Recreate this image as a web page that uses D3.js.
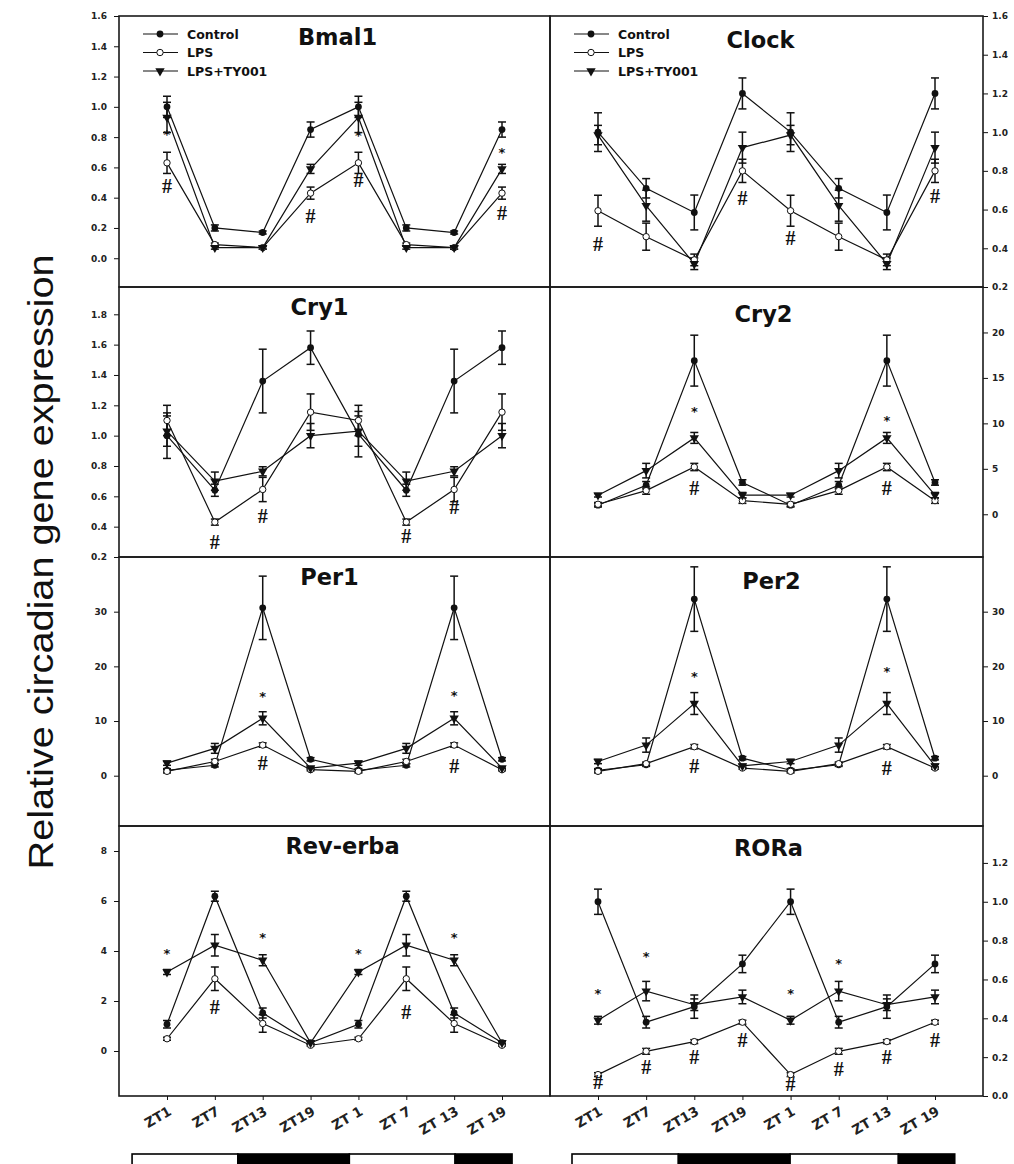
<!DOCTYPE html>
<html>
<head>
<meta charset="utf-8">
<script src="https://cdn.jsdelivr.net/npm/d3@7"></script>
<style>
  body { margin: 0; background: #fff; }
  svg { display: block; }
</style>
</head>
<body>
<div class="canvas"></div>
<script>
// time points, double plotted
const zt = ['ZT1', 'ZT7', 'ZT13', 'ZT19', 'ZT 1', 'ZT 7', 'ZT 13', 'ZT 19'];
const groups = ['Control', 'LPS', 'LPS+TY001'];

// means / SEM, rows = Control, LPS, LPS+TY001
const bmal1Mean = [
  [1.0, 0.2, 0.17, 0.85, 1.0, 0.2, 0.17, 0.85],
  [0.63, 0.09, 0.07, 0.43, 0.63, 0.09, 0.07, 0.43],
  [0.93, 0.07, 0.07, 0.59, 0.93, 0.07, 0.07, 0.59]
];
const bmal1Err = [
  [0.07, 0.02, 0.01, 0.05, 0.07, 0.02, 0.01, 0.05],
  [0.07, 0.01, 0.01, 0.04, 0.07, 0.01, 0.01, 0.04],
  [0.1, 0.01, 0.01, 0.03, 0.1, 0.01, 0.01, 0.03]
];
const bmal1Marks = [['*', 0, 0.82], ['#', 0, 0.48], ['#', 3, 0.28], ['*', 4, 0.81], ['#', 4, 0.52], ['*', 7, 0.7], ['#', 7, 0.3]];
const bmal1Ticks = [0, 0.2, 0.4, 0.6, 0.8, 1.0, 1.2, 1.4, 1.6];

const clockMean = [
  [1.0, 0.71, 0.585, 1.2, 1.0, 0.71, 0.585, 1.2],
  [0.594, 0.46, 0.34, 0.8, 0.594, 0.46, 0.34, 0.8],
  [0.985, 0.62, 0.32, 0.92, 0.985, 0.62, 0.32, 0.92]
];
const clockErr = [
  [0.1, 0.05, 0.09, 0.08, 0.1, 0.05, 0.09, 0.08],
  [0.08, 0.07, 0.03, 0.06, 0.08, 0.07, 0.03, 0.06],
  [0.05, 0.08, 0.03, 0.08, 0.05, 0.08, 0.03, 0.08]
];
const clockMarks = [['#', 0, 0.42], ['#', 3, 0.66], ['#', 4, 0.455], ['#', 7, 0.67]];
const clockTicks = [0.2, 0.4, 0.6, 0.8, 1.0, 1.2, 1.4, 1.6];

const cry1Mean = [
  [1.0, 0.64, 1.36, 1.58, 1.01, 0.64, 1.36, 1.58],
  [1.1, 0.43, 0.645, 1.155, 1.1, 0.43, 0.645, 1.155],
  [1.03, 0.7, 0.765, 1.0, 1.03, 0.7, 0.765, 1.0]
];
const cry1Err = [
  [0.15, 0.04, 0.21, 0.11, 0.15, 0.04, 0.21, 0.11],
  [0.1, 0.02, 0.08, 0.12, 0.1, 0.02, 0.08, 0.12],
  [0.1, 0.06, 0.03, 0.08, 0.1, 0.06, 0.03, 0.08]
];
const cry1Marks = [['#', 1, 0.3], ['#', 2, 0.47], ['#', 5, 0.34], ['#', 6, 0.53]];
const cry1Ticks = [0.2, 0.4, 0.6, 0.8, 1.0, 1.2, 1.4, 1.6, 1.8];

const cry2Mean = [
  [1.0, 3.2, 16.9, 3.5, 1.0, 3.2, 16.9, 3.5],
  [1.1, 2.6, 5.2, 1.5, 1.1, 2.6, 5.2, 1.5],
  [2.1, 4.8, 8.4, 2.1, 2.1, 4.8, 8.4, 2.1]
];
const cry2Err = [
  [0.2, 0.4, 2.8, 0.3, 0.2, 0.4, 2.8, 0.3],
  [0.2, 0.4, 0.4, 0.3, 0.2, 0.4, 0.4, 0.3],
  [0.2, 0.8, 0.6, 0.3, 0.2, 0.8, 0.6, 0.3]
];
const cry2Marks = [['*', 2, 11.3], ['#', 2, 2.9], ['*', 6, 10.3], ['#', 6, 2.9]];
const cry2Ticks = [0, 5, 10, 15, 20];

const per1Mean = [
  [1.0, 1.9, 30.7, 3.0, 1.0, 1.9, 30.7, 3.0],
  [0.8, 2.6, 5.6, 1.1, 0.8, 2.6, 5.6, 1.1],
  [2.3, 5.0, 10.5, 1.4, 2.3, 5.0, 10.5, 1.4]
];
const per1Err = [
  [0.3, 0.3, 5.8, 0.3, 0.3, 0.3, 5.8, 0.3],
  [0.3, 0.4, 0.4, 0.2, 0.3, 0.4, 0.4, 0.2],
  [0.4, 0.9, 1.2, 0.2, 0.4, 0.9, 1.2, 0.2]
];
const per1Marks = [['*', 2, 14.4], ['#', 2, 2.3], ['*', 6, 14.7], ['#', 6, 1.7]];
const per1Ticks = [0, 10, 20, 30];

const per2Mean = [
  [1.0, 2.0, 32.3, 3.2, 1.0, 2.0, 32.3, 3.2],
  [0.8, 2.2, 5.3, 1.4, 0.8, 2.2, 5.3, 1.4],
  [2.6, 5.6, 13.2, 1.8, 2.6, 5.6, 13.2, 1.8]
];
const per2Err = [
  [0.3, 0.3, 5.9, 0.3, 0.3, 0.3, 5.9, 0.3],
  [0.3, 0.3, 0.4, 0.2, 0.3, 0.3, 0.4, 0.2],
  [0.4, 1.3, 2.0, 0.3, 0.4, 1.3, 2.0, 0.3]
];
const per2Marks = [['*', 2, 18.1], ['#', 2, 1.8], ['*', 6, 19.0], ['#', 6, 1.4]];
const per2Ticks = [0, 10, 20, 30];

const revMean = [
  [1.07, 6.19, 1.52, 0.33, 1.07, 6.19, 1.52, 0.33],
  [0.49, 2.89, 1.1, 0.23, 0.49, 2.89, 1.1, 0.23],
  [3.16, 4.23, 3.63, 0.33, 3.16, 4.23, 3.63, 0.33]
];
const revErr = [
  [0.15, 0.2, 0.2, 0.05, 0.15, 0.2, 0.2, 0.05],
  [0.06, 0.47, 0.35, 0.03, 0.06, 0.47, 0.35, 0.03],
  [0.1, 0.43, 0.22, 0.05, 0.1, 0.43, 0.22, 0.05]
];
const revMarks = [['*', 0, 3.92], ['#', 1, 1.76], ['*', 2, 4.56], ['*', 4, 3.92], ['#', 5, 1.56], ['*', 6, 4.56]];
const revTicks = [0, 2, 4, 6, 8];

const roraMean = [
  [1.0, 0.38, 0.46, 0.68, 1.0, 0.38, 0.46, 0.68],
  [0.11, 0.23, 0.28, 0.38, 0.11, 0.23, 0.28, 0.38],
  [0.39, 0.54, 0.47, 0.51, 0.39, 0.54, 0.47, 0.51]
];
const roraErr = [
  [0.065, 0.03, 0.06, 0.045, 0.065, 0.03, 0.06, 0.045],
  [0.01, 0.015, 0.01, 0.01, 0.01, 0.015, 0.01, 0.01],
  [0.02, 0.05, 0.03, 0.035, 0.02, 0.05, 0.03, 0.035]
];
const roraMarks = [
  ['*', 0, 0.53], ['#', 0, 0.07], ['*', 1, 0.72], ['#', 1, 0.15], ['#', 2, 0.2], ['#', 3, 0.29],
  ['*', 4, 0.53], ['#', 4, 0.06], ['*', 5, 0.68], ['#', 5, 0.14], ['#', 6, 0.2], ['#', 7, 0.29]
];
const roraTicks = [0, 0.2, 0.4, 0.6, 0.8, 1.0, 1.2];

// layout
const width = 1014;
const height = 1164;
const cols = [
  { x0: 119, x1: 550, bar: [-0.73, 1.48, 3.81, 6.02, 7.21] },
  { x0: 550, x1: 983, bar: [-0.54, 1.67, 3.99, 6.24, 7.41] }
];
const rows = [[16, 287], [287, 557], [557, 826], [826, 1096]];
const ink = '#111';
const boldFont = 'DejaVu Sans, sans-serif';

const panels = [
  { gene: 'Bmal1', mean: bmal1Mean, err: bmal1Err, marks: bmal1Marks, ticks: bmal1Ticks, domain: [-0.19, 1.6], fmt: '.1f', col: 0, row: 0, tdx: 3, tdy: 29, legend: true },
  { gene: 'Clock', mean: clockMean, err: clockErr, marks: clockMarks, ticks: clockTicks, domain: [0.2, 1.6], fmt: '.1f', col: 1, row: 0, tdx: -6, tdy: 32, legend: true },
  { gene: 'Cry1', mean: cry1Mean, err: cry1Err, marks: cry1Marks, ticks: cry1Ticks, domain: [0.2, 1.98], fmt: '.1f', col: 0, row: 1, tdx: -15, tdy: 28 },
  { gene: 'Cry2', mean: cry2Mean, err: cry2Err, marks: cry2Marks, ticks: cry2Ticks, domain: [-4.7, 25], fmt: 'd', col: 1, row: 1, tdx: -3, tdy: 35 },
  { gene: 'Per1', mean: per1Mean, err: per1Err, marks: per1Marks, ticks: per1Ticks, domain: [-9.2, 40], fmt: 'd', col: 0, row: 2, tdx: -5, tdy: 28 },
  { gene: 'Per2', mean: per2Mean, err: per2Err, marks: per2Marks, ticks: per2Ticks, domain: [-9.2, 40], fmt: 'd', col: 1, row: 2, tdx: 5, tdy: 32 },
  { gene: 'Rev-erba', mean: revMean, err: revErr, marks: revMarks, ticks: revTicks, domain: [-1.8, 9], fmt: 'd', col: 0, row: 3, tdx: 8, tdy: 28 },
  { gene: 'RORa', mean: roraMean, err: roraErr, marks: roraMarks, ticks: roraTicks, domain: [0, 1.39], fmt: '.1f', col: 1, row: 3, tdx: 2, tdy: 30 }
];

const svg = d3
  .select('.canvas')
  .append('svg')
  .attr('width', width)
  .attr('height', height)
  .style('background', '#fff');

const drawMarker = (sel, s, cx, cy) => {
  if (s === 0) {
    sel.append('circle').attr('cx', cx).attr('cy', cy).attr('r', 3.4).attr('fill', ink);
  } else if (s === 1) {
    sel.append('circle').attr('cx', cx).attr('cy', cy).attr('r', 3.2)
      .attr('fill', '#fff').attr('stroke', ink).attr('stroke-width', 1);
  } else {
    sel.append('path')
      .attr('d', d3.symbol(d3.symbolTriangle, 38)())
      .attr('transform', `translate(${cx},${cy}) rotate(180)`)
      .attr('fill', ink);
  }
};

panels.forEach(p => {
  const c = cols[p.col];
  const [y0, y1] = rows[p.row];
  const x = d3.scalePoint().domain(d3.range(zt.length)).range([c.x0 + 48, c.x1 - 48]);
  const y = d3.scaleLinear().domain(p.domain).range([y1, y0]);
  const g = svg.append('g').attr('class', 'panel');

  // y axis (left column on the left, right column on the right)
  const axis = (p.col === 0 ? d3.axisLeft(y) : d3.axisRight(y))
    .tickValues(p.ticks)
    .tickFormat(d3.format(p.fmt))
    .tickSize(5)
    .tickPadding(p.col === 0 ? 7 : 4);
  g.append('g')
    .attr('transform', `translate(${p.col === 0 ? c.x0 : c.x1},0)`)
    .call(axis)
    .call(a => a.select('.domain').remove())
    .call(a => a.selectAll('line').attr('stroke', ink))
    .call(a => a.selectAll('text')
      .attr('fill', '#222')
      .style('font-family', boldFont)
      .style('font-weight', 'bold')
      .style('font-size', '9px'));

  // lines
  const line = d3.line().x((d, i) => x(i)).y(d => y(d));
  p.mean.forEach(m => {
    g.append('path').attr('d', line(m)).attr('fill', 'none').attr('stroke', ink).attr('stroke-width', 1.2);
  });

  // error bars
  p.mean.forEach((m, s) => {
    m.forEach((v, i) => {
      const e = p.err[s][i];
      const top = y(v + e);
      const bot = y(v - e);
      const cx = x(i);
      g.append('line').attr('x1', cx).attr('x2', cx).attr('y1', top).attr('y2', bot)
        .attr('stroke', ink).attr('stroke-width', 1.5);
      [top, bot].forEach(yy => {
        g.append('line').attr('x1', cx - 4).attr('x2', cx + 4).attr('y1', yy).attr('y2', yy)
          .attr('stroke', ink).attr('stroke-width', 1.5);
      });
    });
  });

  // markers
  p.mean.forEach((m, s) => {
    m.forEach((v, i) => drawMarker(g, s, x(i), y(v)));
  });

  // significance marks
  g.selectAll('text.sig')
    .data(p.marks)
    .join('text')
    .attr('class', 'sig')
    .attr('x', d => x(d[1]))
    .attr('y', d => y(d[2]))
    .attr('text-anchor', 'middle')
    .attr('dominant-baseline', 'central')
    .attr('fill', ink)
    .style('font-family', d => d[0] === '#' ? 'Liberation Serif, serif' : boldFont)
    .style('font-weight', 'bold')
    .style('font-size', d => d[0] === '#' ? '20px' : '13px')
    .text(d => d[0]);

  // title
  g.append('text')
    .attr('x', (c.x0 + c.x1) / 2 + p.tdx)
    .attr('y', y0 + p.tdy)
    .attr('text-anchor', 'middle')
    .attr('fill', ink)
    .style('font-family', boldFont)
    .style('font-weight', 'bold')
    .style('font-size', '22.5px')
    .text(p.gene);

  // legend
  if (p.legend) {
    groups.forEach((name, s) => {
      const ly = y0 + 18 + s * 18.5;
      g.append('line').attr('x1', c.x0 + 24).attr('x2', c.x0 + 59).attr('y1', ly).attr('y2', ly)
        .attr('stroke', ink).attr('stroke-width', 1.2);
      drawMarker(g, s, c.x0 + 41, ly);
      g.append('text')
        .attr('x', c.x0 + 68)
        .attr('y', ly)
        .attr('dominant-baseline', 'central')
        .attr('fill', ink)
        .style('font-family', boldFont)
        .style('font-weight', 'bold')
        .style('font-size', '12.5px')
        .text(name);
    });
  }

  // frame
  g.append('rect')
    .attr('x', c.x0).attr('y', y0)
    .attr('width', c.x1 - c.x0).attr('height', y1 - y0)
    .attr('fill', 'none').attr('stroke', '#1a1a1a').attr('stroke-width', 1.6);

  // bottom row: time axis and light/dark bar
  if (p.row === rows.length - 1) {
    const xa = g.append('g')
      .attr('transform', `translate(0,${y1})`)
      .call(d3.axisBottom(x).tickSize(4).tickFormat(i => zt[i]))
      .call(a => a.select('.domain').remove())
      .call(a => a.selectAll('line').attr('stroke', ink));
    xa.selectAll('text')
      .attr('y', 0)
      .attr('dy', 0)
      .attr('text-anchor', 'end')
      .attr('transform', 'translate(5,18) rotate(-30)')
      .attr('fill', '#222')
      .style('font-family', boldFont)
      .style('font-weight', 'bold')
      .style('font-size', '13.5px');

    const bx = d3.scaleLinear().domain([0, zt.length - 1]).range(x.range());
    d3.pairs(c.bar).forEach(([a, b], k) => {
      g.append('rect')
        .attr('x', bx(a)).attr('y', 1154)
        .attr('width', bx(b) - bx(a)).attr('height', 16)
        .attr('fill', k % 2 ? '#000' : '#fff')
        .attr('stroke', '#000').attr('stroke-width', 1.6);
    });
  }
});

// shared y label
svg.append('text')
  .attr('transform', 'translate(53,562) rotate(-90)')
  .attr('text-anchor', 'middle')
  .attr('fill', '#111')
  .attr('textLength', 615)
  .attr('lengthAdjust', 'spacingAndGlyphs')
  .style('font-family', 'Liberation Sans, Arial, sans-serif')
  .style('font-size', '35px')
  .text('Relative circadian gene expression');
</script>
</body>
</html>
